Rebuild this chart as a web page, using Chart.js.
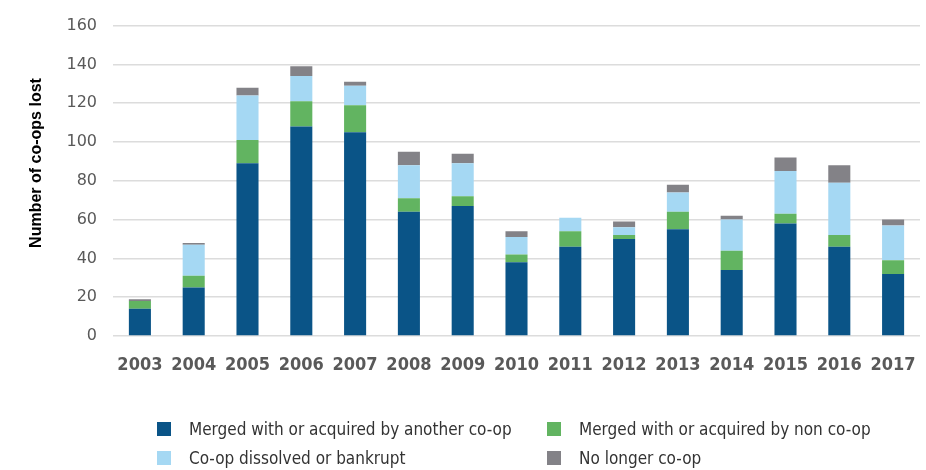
<!DOCTYPE html>
<html>
<head>
<meta charset="utf-8">
<script src="https://cdn.jsdelivr.net/npm/chart.js@4"></script>
<style>
  body { margin: 0; background: #fff; }
  .wrap { position: relative; width: 926px; height: 470px; }
  .legend {
    position: absolute; left: 157px; top: 420px;
    display: grid; grid-template-columns: 390px 360px; row-gap: 11px;
    font-family: "DejaVu Sans Condensed", sans-serif;
    font-size: 17px; color: #333;
  }
  .legend .item { display: flex; align-items: center; height: 18px; }
  .legend .box { width: 14px; height: 14px; margin-right: 18px; }
</style>
</head>
<body>
<div class="wrap">
  <canvas id="chart" width="926" height="470"></canvas>
  <div class="legend"></div>
</div>
<script>
const years = ["2003", "2004", "2005", "2006", "2007", "2008", "2009", "2010",
  "2011", "2012", "2013", "2014", "2015", "2016", "2017"];
const mergedCoop = [14, 25, 89, 108, 105, 64, 67, 38, 46, 50, 55, 34, 58, 46, 32];
const mergedNonCoop = [4, 6, 12, 13, 14, 7, 5, 4, 8, 2, 9, 10, 5, 6, 7];
const dissolved = [0, 16, 23, 13, 10, 17, 17, 9, 7, 4, 10, 16, 22, 27, 18];
const noLonger = [1, 1, 4, 5, 2, 7, 5, 3, 0, 3, 4, 2, 7, 9, 3];
const yTicks = [0, 20, 40, 60, 80, 100, 120, 140, 160];

// draws the rotated y title a bit above the plot centre, like the original
const yTitle = {
  id: "yTitle",
  afterDraw(chart) {
    const ctx = chart.ctx;
    ctx.save();
    ctx.translate(37, 163);
    ctx.rotate(-Math.PI / 2);
    ctx.font = "bold 16px 'Liberation Sans', Arial, sans-serif";
    ctx.fillStyle = "#000";
    ctx.textAlign = "center";
    ctx.textBaseline = "middle";
    ctx.fillText("Number of co-ops lost", 0, 0);
    ctx.restore();
  }
};

const chart = new Chart(document.getElementById("chart"), {
  type: "bar",
  data: {
    labels: years,
    datasets: [
      { label: "Merged with or acquired by another co-op", data: mergedCoop, backgroundColor: "#0a5487" },
      { label: "Merged with or acquired by non co-op", data: mergedNonCoop, backgroundColor: "#62b461" },
      { label: "Co-op dissolved or bankrupt", data: dissolved, backgroundColor: "#a5d8f3" },
      { label: "No longer co-op", data: noLonger, backgroundColor: "#838287" }
    ]
  },
  options: {
    responsive: false,
    animation: false,
    layout: { padding: { top: 20, right: 6, bottom: 0, left: 0 } },
    datasets: { bar: { barPercentage: 0.41, categoryPercentage: 1 } },
    plugins: { legend: { display: false }, tooltip: { enabled: false } },
    scales: {
      x: {
        stacked: true,
        // grid hidden; tickLength only pushes the labels down
        grid: { display: false, tickLength: 19 },
        border: { display: false },
        ticks: {
          color: "#595959", padding: 0, maxRotation: 0, minRotation: 0, autoSkip: false,
          font: { family: "'DejaVu Sans Condensed', sans-serif", size: 18, weight: "bold" }
        },
        afterFit(scale) { scale.height = 134; }
      },
      y: {
        stacked: true,
        min: 0, max: 160,
        afterBuildTicks(scale) { scale.ticks = yTicks.map(v => ({ value: v })); },
        grid: { color: "#dcdcdc", lineWidth: 1.5, drawTicks: false },
        border: { display: false },
        ticks: {
          color: "#595959", padding: 16,
          font: { family: "'DejaVu Sans', sans-serif", size: 16 }
        },
        afterFit(scale) { scale.width = 113; }
      }
    }
  },
  plugins: [yTitle]
});

// html legend in two columns
const legendEl = document.querySelector(".legend");
chart.data.datasets.forEach(ds => {
  const item = document.createElement("div");
  item.className = "item";
  item.innerHTML = '<span class="box" style="background:' + ds.backgroundColor + '"></span><span></span>';
  item.lastChild.textContent = ds.label;
  legendEl.appendChild(item);
});
</script>
</body>
</html>
